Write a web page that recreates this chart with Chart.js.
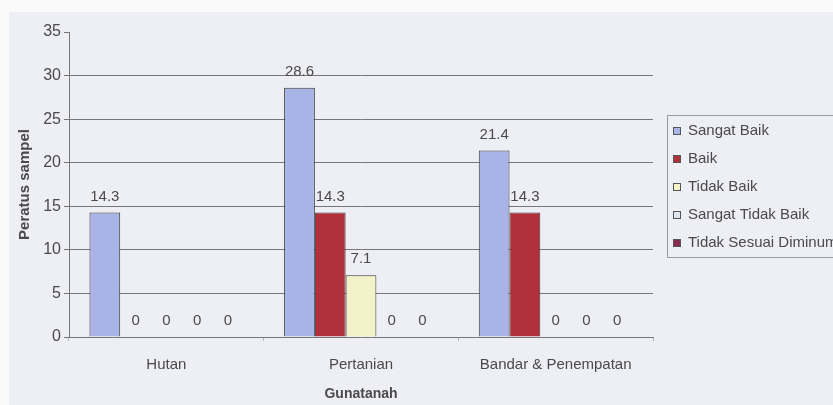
<!DOCTYPE html>
<html>
<head>
<meta charset="utf-8">
<script src="https://cdn.jsdelivr.net/npm/chart.js@4.4.0/dist/chart.umd.min.js"></script>
<style>
  html, body { margin: 0; padding: 0; background: #fafafb; overflow: hidden; }
  #wrap { width: 833px; height: 405px; position: relative; }
</style>
</head>
<body>
<div id="wrap"><canvas id="grafico"></canvas></div>
<script>
// Datos del gráfico
const kategori = ['Hutan', 'Pertanian', 'Bandar & Penempatan'];
const sangatBaik = [14.3, 28.6, 21.4];
const baik = [0, 14.3, 14.3];
const tidakBaik = [0, 7.1, 0];
const sangatTidakBaik = [0, 0, 0];
const tidakSesuai = [0, 0, 0];
const tickY = [0, 5, 10, 15, 20, 25, 30, 35];

const FONT = "'Liberation Sans', Arial, sans-serif";
const TEXTO = '#4a4a4a';
const REJILLA = '#777777';

// Fondo lila claro como la foto
const fondoPlugin = {
    id: 'fondo',
    beforeDraw(chart) {
        const ctx = chart.ctx;
        ctx.save();
        ctx.fillStyle = '#fafafb';
        ctx.fillRect(0, 0, chart.width, chart.height);
        ctx.fillStyle = '#eeeef5';
        ctx.fillRect(9, 12, chart.width - 9, chart.height - 12);
        ctx.restore();
    }
};

// Etiquetas de valor encima de cada barra
const etiquetasPlugin = {
    id: 'etiquetas',
    afterDatasetsDraw(chart) {
        const ctx = chart.ctx;
        ctx.save();
        ctx.font = '15px ' + FONT;
        ctx.fillStyle = TEXTO;
        ctx.textAlign = 'center';
        ctx.textBaseline = 'middle';
        chart.data.datasets.forEach((ds, i) => {
            const meta = chart.getDatasetMeta(i);
            meta.data.forEach((bar, j) => {
                const v = ds.data[j];
                const txt = v === 0 ? '0' : v.toFixed(1);
                ctx.fillText(txt, bar.x, bar.y - 16);
            });
        });
        ctx.restore();
    }
};

// Leyenda con caja, como en Excel
const leyendaPlugin = {
    id: 'leyenda',
    afterDraw(chart) {
        const ctx = chart.ctx;
        const x0 = 667, y0 = 115, alto = 142;
        ctx.save();
        ctx.strokeStyle = '#9a9aa0';
        ctx.lineWidth = 1;
        ctx.strokeRect(x0 + 0.5, y0 + 0.5, chart.width, alto);
        ctx.font = '15px ' + FONT;
        ctx.textBaseline = 'middle';
        chart.data.datasets.forEach((ds, i) => {
            const y = 131 + i * 28;
            ctx.fillStyle = ds.backgroundColor;
            ctx.fillRect(673, y - 4, 8, 8);
            ctx.strokeStyle = '#555';
            ctx.strokeRect(673.5, y - 3.5, 7, 7);
            ctx.fillStyle = TEXTO;
            ctx.fillText(ds.label, 688, y);
        });
        ctx.restore();
    }
};

function serie(label, datos, color) {
    return {
        label: label,
        data: datos,
        backgroundColor: color,
        borderColor: '#3a3a3a',
        borderWidth: 1,
        borderSkipped: 'bottom',
        barPercentage: 1,
        categoryPercentage: 0.79
    };
}

const ctx = document.getElementById('grafico').getContext('2d');
const grafico = new Chart(ctx, {
    type: 'bar',
    data: {
        labels: kategori,
        datasets: [
            serie('Sangat Baik', sangatBaik, '#a9b4e6'),
            serie('Baik', baik, '#b0303b'),
            serie('Tidak Baik', tidakBaik, '#f4f2c8'),
            serie('Sangat Tidak Baik', sangatTidakBaik, '#dde6ee'),
            serie('Tidak Sesuai Diminum', tidakSesuai, '#8a2a4e')
        ]
    },
    options: {
        responsive: true,
        maintainAspectRatio: false,
        animation: false,
        layout: { padding: { top: 32, right: 180, left: 0, bottom: 0 } },
        plugins: {
            legend: { display: false },
            tooltip: { enabled: false }
        },
        scales: {
            x: {
                afterFit(scale) { scale.height = 68; },
                grid: {
                    offset: true,
                    drawOnChartArea: false,
                    tickLength: 4,
                    tickColor: '#b5b5bb'
                },
                border: { color: REJILLA, width: 1 },
                ticks: {
                    color: TEXTO,
                    padding: 15,
                    font: { family: FONT, size: 15 }
                },
                title: {
                    display: true,
                    text: 'Gunatanah',
                    color: TEXTO,
                    padding: { top: 0, bottom: 2 },
                    font: { family: FONT, size: 14, weight: 'bold' }
                }
            },
            y: {
                min: 0,
                max: 35,
                afterFit(scale) { scale.width = 69; },
                afterBuildTicks(scale) {
                    scale.ticks = tickY.map(v => ({ value: v }));
                },
                grid: {
                    color: c => (c.tick && (c.tick.value === 35 || c.tick.value === 0)) ? 'rgba(0,0,0,0)' : REJILLA,
                    tickColor: REJILLA,
                    tickLength: 5,
                    lineWidth: 1
                },
                border: { color: REJILLA, width: 1 },
                ticks: {
                    color: TEXTO,
                    padding: 3,
                    font: { family: FONT, size: 16 }
                },
                title: {
                    display: true,
                    text: 'Peratus sampel',
                    color: TEXTO,
                    padding: { top: 16, bottom: 0 },
                    font: { family: FONT, size: 15, weight: 'bold' }
                }
            }
        }
    },
    plugins: [fondoPlugin, etiquetasPlugin, leyendaPlugin]
});
</script>
</body>
</html>
